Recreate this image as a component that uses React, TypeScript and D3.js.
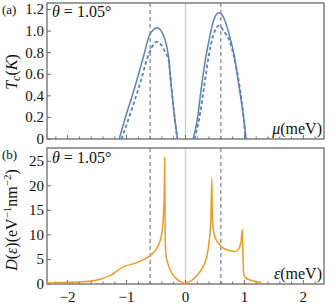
import React from 'react';
import * as d3 from 'd3';

// top panel: Tc vs mu, solid and dashed, two domes each
const muSolidL = [-1.125, -1.03, -0.86, -0.70, -0.62, -0.55, -0.475, -0.41, -0.36, -0.29, -0.24, -0.18, -0.135];
const tcSolidL = [0, 0.18, 0.48, 0.79, 0.95, 1.01, 1.03, 1.0, 0.94, 0.77, 0.48, 0.18, 0];
const muSolidR = [0.13, 0.2, 0.27, 0.355, 0.42, 0.49, 0.57, 0.66, 0.75, 0.82, 0.91, 0.99, 1.03];
const tcSolidR = [0, 0.18, 0.48, 0.79, 0.97, 1.12, 1.17, 1.11, 0.95, 0.79, 0.48, 0.18, 0];
const muDashL = [-1.085, -0.97, -0.79, -0.62, -0.55, -0.49, -0.41, -0.34, -0.29, -0.24, -0.18, -0.14];
const tcDashL = [0, 0.18, 0.48, 0.79, 0.87, 0.9, 0.87, 0.8, 0.74, 0.48, 0.18, 0];
const muDashR = [0.15, 0.23, 0.315, 0.4, 0.47, 0.57, 0.66, 0.74, 0.82, 0.92, 0.99, 1.02];
const tcDashR = [0, 0.18, 0.48, 0.79, 0.96, 1.05, 0.99, 0.92, 0.77, 0.48, 0.18, 0];

// bottom panel: density of states
const eps = [-2.35, -1.82, -1.54, -1.37, -1.25, -1.14, -1.03, -0.86, -0.69, -0.59, -0.5, -0.44, -0.4, -0.375, -0.36, -0.352,
  -0.345, -0.33, -0.3, -0.25, -0.15, -0.06, 0, 0.03, 0.07, 0.19, 0.3, 0.36, 0.4, 0.43, 0.447,
  0.455, 0.48, 0.52, 0.58, 0.64, 0.75, 0.83, 0.9, 0.94, 0.965, 0.975, 0.99, 1.02, 1.12, 1.27, 1.29];
const dos = [0.2, 0.4, 0.7, 1.3, 1.9, 2.9, 3.6, 4.2, 5.1, 5.9, 7.0, 8.5, 10.5, 14, 19, 25.8,
  9, 5.8, 4.2, 2.6, 1.0, 0.35, 0, 0.3, 0.5, 1.7, 3.6, 5.5, 8.5, 13, 21.5,
  14, 10.5, 9.0, 8.0, 7.3, 6.8, 6.6, 7.1, 8.5, 11.2, 6, 1.8, 1.3, 0.7, 0.3, 0];

const tcTicks = [0, 0.2, 0.4, 0.6, 0.8, 1.0, 1.2];
const tcTickLabels = ['0', '0.2', '0.4', '0.6', '0.8', '1.0', '1.2'];
const dosTicks = [0, 5, 10, 15, 20, 25];
const xTicks = [-2, -1, 0, 1, 2];
const xTickLabels = ['\u22122', '\u22121', '0', '1', '2'];
const guideLines = [-0.6, 0.6];

const W = 333;
const H = 306;
const left = 47;
const right = 324;
const blue = '#5e81b5';
const orange = '#eb9c24';
const frameCol = '#6b6b6b';
const font = '"Liberation Serif", serif';

const x = d3.scaleLinear().domain([-2.35, 2.35]).range([left, right]);
const yTop = d3.scaleLinear().domain([0, 1.26]).range([139, 3]);
const yBot = d3.scaleLinear().domain([0, 27.7]).range([284, 148]);

const zip = (a: number[], b: number[]) => a.map((v, i) => [v, b[i]] as [number, number]);

const lineTop = d3.line<[number, number]>().x(d => x(d[0])).y(d => yTop(d[1])).curve(d3.curveMonotoneX);
const lineBot = d3.line<[number, number]>().x(d => x(d[0])).y(d => yBot(d[1])).curve(d3.curveMonotoneX);

const minorX = d3.range(-2.2, 2.35, 0.2).map(v => Math.round(v * 10) / 10);

const Frame = ({ y }: { y: d3.ScaleLinear<number, number> }) => {
  const [y0, y1] = y.range();
  return (
    <g>
      <line x1={x(0)} x2={x(0)} y1={y1} y2={y0} stroke="#cfcfcf" strokeWidth={1.3} />
      {guideLines.map(g => (
        <line key={g} x1={x(g)} x2={x(g)} y1={y1} y2={y0} stroke="#8a8a8a" strokeWidth={1.3} strokeDasharray="4,3" />
      ))}
      {minorX.map(v => {
        const major = Math.abs(v - Math.round(v)) < 1e-6;
        return <line key={v} x1={x(v)} x2={x(v)} y1={y0} y2={y0 - (major ? 4 : 2.5)} stroke={frameCol} strokeWidth={1} />;
      })}
      <rect x={left} y={y1} width={right - left} height={y0 - y1} fill="none" stroke={frameCol} strokeWidth={1.3} />
    </g>
  );
};

const Theta = ({ yb }: { yb: number }) => (
  <text x={52} y={yb} fontFamily={font} fontSize={16} fill="#111">
    <tspan fontStyle="italic">θ</tspan> = 1.05°
  </text>
);

export default function App() {
  return (
    <svg width={W} height={H} style={{ position: 'absolute', left: 0, top: 0, background: '#fff' }}>
      {/* panel (a) */}
      <Frame y={yTop} />
      {tcTicks.map((t, i) => (
        <g key={t}>
          <line x1={left} x2={left + 4} y1={yTop(t)} y2={yTop(t)} stroke={frameCol} />
          <text x={left - 3} y={yTop(t) + 5} textAnchor="end" fontFamily={font} fontSize={15} fill="#111">{tcTickLabels[i]}</text>
        </g>
      ))}
      {[zip(muSolidL, tcSolidL), zip(muSolidR, tcSolidR)].map((d, i) => (
        <path key={'s' + i} d={lineTop(d) || ''} fill="none" stroke={blue} strokeWidth={1.5} />
      ))}
      {[zip(muDashL, tcDashL), zip(muDashR, tcDashR)].map((d, i) => (
        <path key={'d' + i} d={lineTop(d) || ''} fill="none" stroke={blue} strokeWidth={1.8} strokeDasharray="3.5,2.5" />
      ))}
      <Theta yb={17} />
      <text x={2} y={14} fontFamily={font} fontSize={13} fill="#111">(a)</text>
      <text x={322} y={134} textAnchor="end" fontFamily={font} fontSize={16} fill="#111">
        <tspan fontStyle="italic">μ</tspan>(meV)
      </text>
      <text transform="translate(17,72) rotate(-90)" textAnchor="middle" fontFamily={font} fontSize={16} fill="#111">
        <tspan fontStyle="italic">T</tspan><tspan fontStyle="italic" fontSize={12} dy={3}>c</tspan><tspan dy={-3}>(</tspan><tspan fontStyle="italic">K</tspan>)
      </text>

      {/* panel (b) */}
      <Frame y={yBot} />
      {dosTicks.map(t => (
        <g key={t}>
          <line x1={left} x2={left + 4} y1={yBot(t)} y2={yBot(t)} stroke={frameCol} />
          <text x={left - 3} y={yBot(t) + 5} textAnchor="end" fontFamily={font} fontSize={15} fill="#111">{t}</text>
        </g>
      ))}
      <path d={lineBot(zip(eps, dos)) || ''} fill="none" stroke={orange} strokeWidth={1.5} />
      {xTicks.map((t, i) => (
        <text key={t} x={x(t)} y={302} textAnchor="middle" fontFamily={font} fontSize={15} fill="#111">{xTickLabels[i]}</text>
      ))}
      <Theta yb={163} />
      <text x={2} y={159} fontFamily={font} fontSize={13} fill="#111">(b)</text>
      <text x={322} y={279} textAnchor="end" fontFamily={font} fontSize={16} fill="#111">
        <tspan fontStyle="italic">ε</tspan>(meV)
      </text>
      <text transform="translate(17,220) rotate(-90)" textAnchor="middle" fontFamily={font} fontSize={16} fill="#111">
        <tspan fontStyle="italic">D</tspan>(<tspan fontStyle="italic">ε</tspan>)(eV<tspan fontSize={11} dy={-6}>−1</tspan><tspan dy={6}>nm</tspan><tspan fontSize={11} dy={-6}>−2</tspan><tspan dy={6}>)</tspan>
      </text>
    </svg>
  );
}
